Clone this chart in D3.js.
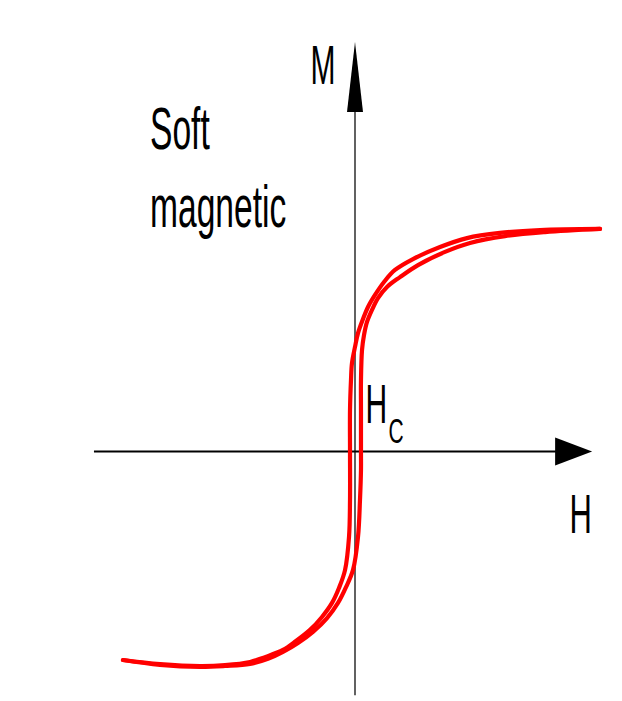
<!DOCTYPE html>
<html>
<head>
<meta charset="utf-8">
<script src="https://cdn.jsdelivr.net/npm/d3@7/dist/d3.min.js"></script>
<style>
html,body{margin:0;padding:0;background:#fff;}
svg{display:block;}
text{font-family:"Liberation Sans",Arial,sans-serif;fill:#000;}
</style>
</head>
<body>
<svg id="chart" width="622" height="701"></svg>
<script>
// Descending branch (from positive saturation to negative saturation)
const descH = [47.12, 35.58, 27.88, 21.54, 16.35, 11.15, 7.69, 5.58, 3.85, 2.50, 1.54, 0.58, 0.0, -0.58, -0.77, -0.96, -0.96, -0.96, -1.15, -1.92, -3.08, -4.42, -6.35, -8.65, -11.35, -13.85, -17.31, -20.19, -25.0, -29.81, -37.5, -44.62];
const descM = [0.998, 0.993, 0.980, 0.957, 0.917, 0.863, 0.814, 0.760, 0.702, 0.648, 0.594, 0.531, 0.469, 0.397, 0.321, 0.186, -0.002, -0.217, -0.383, -0.532, -0.612, -0.679, -0.742, -0.800, -0.850, -0.890, -0.922, -0.944, -0.958, -0.962, -0.953, -0.935];
// Ascending branch (from negative saturation back to positive saturation)
const ascH = [-44.62, -37.5, -29.81, -25.0, -20.19, -16.73, -13.85, -10.96, -8.08, -5.38, -3.27, -1.73, -0.38, 0.58, 0.96, 1.15, 1.15, 1.15, 1.15, 1.35, 1.73, 2.31, 3.27, 4.42, 6.15, 8.65, 12.12, 17.31, 22.12, 28.85, 36.54, 47.12];
const ascM = [-0.935, -0.957, -0.966, -0.962, -0.953, -0.930, -0.899, -0.859, -0.809, -0.747, -0.679, -0.608, -0.531, -0.383, -0.217, -0.083, -0.002, 0.186, 0.321, 0.455, 0.522, 0.581, 0.635, 0.688, 0.738, 0.782, 0.836, 0.895, 0.935, 0.966, 0.984, 0.998];
// Axis extents (data units)
const hAxisExtent = [-50.2, 45.6];
const mAxisExtent = [-1.093, 1.836];
const axisLabels = ["H", "M"];
const noteLines = ["Soft", "magnetic"];
const coercivityLabel = ["H", "C"];

const svg = d3.select("#chart");
const x = d3.scaleLinear().domain([-50, 50]).range([95, 615]);
const y = d3.scaleLinear().domain([-1.2, 1.2]).range([451.5 + 267.6, 451.5 - 267.6]);

const x0 = x(0), y0 = y(0);

// vertical (M) axis
svg.append("line")
  .attr("x1", x0).attr("x2", x0)
  .attr("y1", y(mAxisExtent[0])).attr("y2", y(mAxisExtent[1]) + 20)
  .attr("stroke", "#3a3a3a").attr("stroke-width", 1.6);
const mt = y(mAxisExtent[1]);
svg.append("path")
  .attr("d", `M${x0},${mt} L${x0 - 8},${mt + 70} L${x0 + 8},${mt + 70} Z`)
  .attr("fill", "#000");

// horizontal (H) axis
const ht = x(hAxisExtent[1]);
svg.append("line")
  .attr("x1", x(hAxisExtent[0])).attr("x2", ht - 30)
  .attr("y1", y0).attr("y2", y0)
  .attr("stroke", "#000").attr("stroke-width", 2);
svg.append("path")
  .attr("d", `M${ht},${y0} L${ht - 37},${y0 - 14} L${ht - 37},${y0 + 14} Z`)
  .attr("fill", "#000");

// hysteresis loop
const line = d3.line()
  .x(d => x(d[0])).y(d => y(d[1]))
  .curve(d3.curveCatmullRom.alpha(0.5));
const desc = descH.map((h, i) => [h, descM[i]]);
const asc = ascH.map((h, i) => [h, ascM[i]]);
[desc, asc].forEach(pts => {
  svg.append("path")
    .attr("d", line(pts))
    .attr("fill", "none")
    .attr("stroke", "#ff0000")
    .attr("stroke-width", 4.2)
    .attr("stroke-linecap", "round")
    .attr("stroke-linejoin", "round");
});

// labels
function label(txt, px, py, size, sy) {
  svg.append("g")
    .attr("transform", `translate(${px},${py}) scale(1,${sy})`)
    .append("text")
    .attr("x", 0).attr("y", 0)
    .attr("font-size", size)
    .text(txt);
}
label(axisLabels[1], 310.5, 84, 30, 1.85);
label(axisLabels[0], 569.5, 533, 31, 1.8);
label(noteLines[0], 150, 149, 33.6, 1.75);
label(noteLines[1], 150, 227, 33.6, 1.75);
label(coercivityLabel[0], 365.5, 423, 30, 1.85);
label(coercivityLabel[1], 388.5, 443, 21, 1.7);
</script>
</body>
</html>
